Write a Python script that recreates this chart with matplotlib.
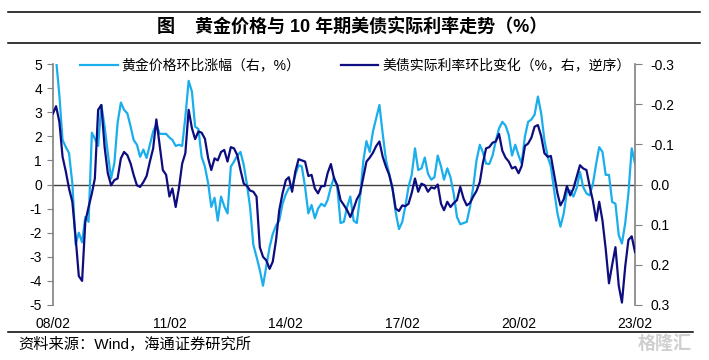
import matplotlib
matplotlib.use('Agg')
import matplotlib.pyplot as plt
import matplotlib.dates as mdates
from matplotlib.lines import Line2D
import pandas as pd

plt.rcParams['font.family'] = ['Liberation Sans', 'Noto Sans CJK SC', 'DejaVu Sans']
plt.rcParams['axes.unicode_minus'] = False

# Monthly data, 2008-02 .. 2023-02
start_month = '2008-02-01'

# Gold price MoM change (%), left axis
gold_mom = [
    6.0, 5.2, 3.7, 1.85, 1.55, 1.3, 0.05, -2.5, -2.0, -2.4,
    -1.35, -1.55, 2.15, 1.9, 1.6, 3.3, 2.4, 1.3, 0.25, 0.9,
    2.55, 3.4, 3.1, 2.95, 2.4, 1.85, 1.65, 1.15, 1.45, 1.1,
    1.65, 2.2, 2.5, 2.1, 2.1, 2.1, 1.95, 1.85, 1.6, 1.65,
    1.6, 2.8, 4.3, 3.85, 2.4, 2.3, 1.15, 0.74, 0.04, -0.93,
    -0.55, -1.5, -0.5, -0.9, -1.2, 0.74, 0.95, 1.2, 1.35, 0.8,
    -0.03, -0.93, -2.5, -3.0, -3.55, -4.2, -3.4, -2.6, -2.05, -1.7,
    -1.5, -0.8, -0.4, -0.15, -0.1, 0.4, 0.8, 0.75, -0.1, -1.2,
    -0.85, -1.4, -1.0, -0.8, -0.9, -0.65, -0.1, 0.3, -0.15, -1.6,
    -1.55, -0.93, -0.5, -1.5, -1.6, -0.5, 1.0, 1.8, 1.35, 2.2,
    2.75, 3.3, 2.1, 1.0, 0.45, -0.15, -1.15, -1.85, -1.55, -0.93,
    -0.1, 0.4, 1.5, 0.6, 0.67, 1.12, 0.45, 0.2, 0.3, 1.2,
    0.75, 0.2, 0.67, 0.3, -0.4, -1.35, -1.65, -1.6, -1.55, -0.93,
    -0.1, 1.0, 1.65, 1.35, 0.87, 0.85, 1.2, 1.8, 2.33, 2.6,
    2.45, 2.05, 1.2, 1.65, 1.2, 0.87, 2.0, 2.6, 2.7, 2.9,
    3.65, 2.95, 1.85, 1.15, 0.75, -0.25, -1.2, -1.75, -1.2, -0.3,
    -0.25, -0.5, -0.15, 0.52, -0.1, -0.37, -0.45, 0.04, 0.87, 1.55,
    1.35, 0.4, 0.4, -0.72, -0.8, -2.1, -2.45, -1.6, -0.37, 1.5,
    0.87,
]

# US 10Y real rate MoM change (%), right axis, inverted
real_rate_mom = [
    -0.177, -0.195, -0.156, -0.069, -0.032, 0.010, 0.043, 0.132, 0.228, 0.240,
    0.093, 0.056, 0.022, -0.015, -0.186, -0.198, -0.093, -0.028, 0.002, -0.011,
    -0.015, -0.065, -0.081, -0.073, -0.052, -0.024, 0.002, 0.006, -0.006, -0.021,
    -0.057, -0.090, -0.162, -0.099, -0.036, -0.024, 0.030, 0.010, 0.056, 0.010,
    -0.052, -0.078, -0.186, -0.140, -0.113, -0.132, -0.129, -0.114, -0.065, -0.036,
    -0.065, -0.060, -0.081, -0.086, -0.057, -0.093, -0.090, -0.073, -0.036, -0.002,
    0.004, 0.015, 0.018, 0.030, 0.156, 0.180, 0.189, 0.210, 0.192, 0.138,
    0.064, 0.022, -0.011, -0.018, 0.018, -0.032, -0.063, -0.060, -0.057, -0.021,
    -0.024, 0.010, 0.022, 0.004, 0.004, -0.028, -0.051, -0.015, 0.002, 0.039,
    0.051, 0.064, 0.081, 0.060, 0.037, 0.022, -0.019, -0.057, -0.067, -0.079,
    -0.096, -0.107, -0.069, -0.044, -0.024, 0.010, 0.060, 0.066, 0.052, 0.054,
    0.048, 0.021, -0.015, 0.018, -0.002, 0.002, 0.018, 0.007, 0.010, 0.000,
    0.048, 0.064, 0.043, 0.056, 0.046, 0.039, 0.006, 0.035, 0.052, 0.046,
    0.030, 0.016, -0.006, -0.052, -0.090, -0.093, -0.104, -0.107, -0.126, -0.084,
    -0.067, -0.057, -0.040, -0.044, -0.028, -0.046, -0.096, -0.102, -0.117, -0.144,
    -0.148, -0.120, -0.078, -0.069, -0.071, -0.024, 0.022, 0.052, 0.037, 0.004,
    0.027, 0.010, -0.019, -0.048, -0.040, -0.036, 0.004, 0.041, 0.090, 0.043,
    0.090, 0.160, 0.246, 0.200, 0.156, 0.252, 0.294, 0.204, 0.138, 0.129,
    0.168,
]

gold_label = '黄金价格环比涨幅（右，%）'
rate_label = '美债实际利率环比变化（%，右，逆序）'
title_text = '图    黄金价格与 10 年期美债实际利率走势（%）'
source_text = '资料来源：Wind，海通证券研究所'
left_ticks = [-5, -4, -3, -2, -1, 0, 1, 2, 3, 4, 5]
right_ticks = [-0.3, -0.2, -0.1, 0.0, 0.1, 0.2, 0.3]
x_tick_years = [2008, 2011, 2014, 2017, 2020, 2023]

dates = pd.date_range(start_month, periods=len(gold_mom), freq='MS')

W, H = 709, 360
fig = plt.figure(figsize=(W / 100, H / 100), dpi=100)
ax = fig.add_axes([53 / W, 1 - 305 / H, (635 - 53) / W, (305 - 64) / H])
ax2 = ax.twinx()

light = '#1AAEEC'
dark = '#0D0D80'
axis_gray = '#808080'

ax.axhline(0, color='#404040', lw=1.0, zorder=1)
l1, = ax.plot(dates, gold_mom, color=light, lw=1.6, label=gold_label, zorder=2)
l2, = ax2.plot(dates, real_rate_mom, color=dark, lw=1.6, label=rate_label, zorder=3)

ax.set_xlim(pd.Timestamp('2008-02-01'), pd.Timestamp('2023-02-01'))
ax.set_ylim(-5, 5)
ax.set_yticks(left_ticks)
ax2.set_ylim(0.3, -0.3)
ax2.set_yticks(right_ticks)
ax2.set_yticklabels([f'{t:.1f}' for t in right_ticks])

ax.set_xticks([pd.Timestamp(f'{y}-02-01') for y in x_tick_years])
ax.xaxis.set_major_formatter(mdates.DateFormatter('%y/%m'))

for a in (ax, ax2):
    for s in ('top', 'bottom'):
        a.spines[s].set_visible(False)
ax.spines['right'].set_visible(False)
ax2.spines['left'].set_visible(False)
ax.spines['left'].set_color(axis_gray)
ax2.spines['right'].set_color(axis_gray)
ax.spines['left'].set_linewidth(1.2)
ax2.spines['right'].set_linewidth(1.2)

ax.tick_params(axis='y', direction='out', length=4, color=axis_gray, labelsize=10, pad=4)
ax2.tick_params(axis='y', direction='out', length=5, color=axis_gray, labelsize=10, pad=6)
ax.tick_params(axis='x', length=0, labelsize=10, pad=9)

fig.legend(handles=[l1, l2], loc='center left', bbox_to_anchor=(80 / W, 1 - 66 / H),
           ncol=2, frameon=False, borderpad=0, borderaxespad=0,
           handlelength=2.7, handletextpad=0.3, columnspacing=2.9, fontsize=10)

# Title block
for yy in (12, 43):
    fig.add_artist(Line2D([8 / W, 700 / W], [1 - yy / H] * 2, color='black', lw=1.1,
                          transform=fig.transFigure))
fig.text(352 / W, 1 - 27.5 / H, title_text, ha='center', va='center',
         fontsize=13, fontweight='bold')

# Source block
fig.add_artist(Line2D([8 / W, 693 / W], [1 - 332 / H] * 2, color='black', lw=1.1,
                      transform=fig.transFigure))
fig.text(18 / W, 1 - 344 / H, source_text, ha='left', va='center', fontsize=11)
fig.text(665 / W, 1 - 344 / H, '格隆汇', ha='center', va='center', fontsize=13,
         color='#cfcfcf', fontweight='bold')

fig.savefig('out.png', dpi=100)
